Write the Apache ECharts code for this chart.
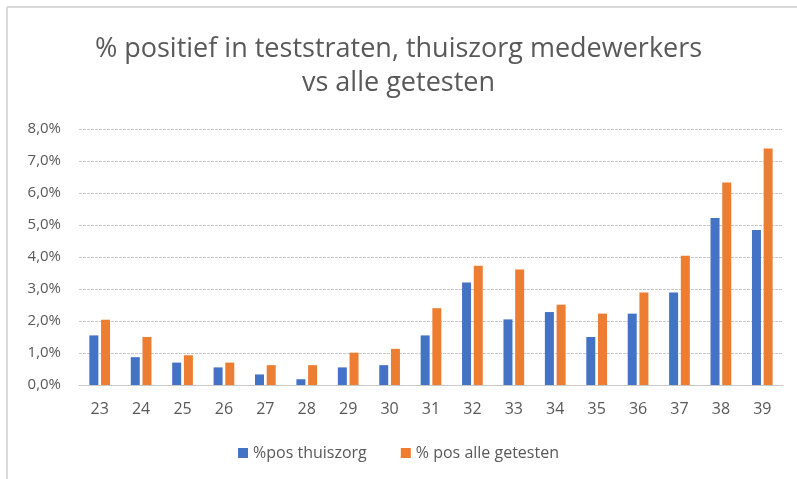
<!DOCTYPE html>
<html>
<head>
<meta charset="utf-8">
<title>% positief in teststraten</title>
<script src="https://cdn.jsdelivr.net/npm/echarts@6/dist/echarts.min.js"></script>
<style>
  html, body { margin: 0; padding: 0; background: #fff; }
  #chart { width: 797px; height: 479px; }
</style>
</head>
<body>
<div id="chart"></div>
<script>
// weeknummers
var weeks = ['23','24','25','26','27','28','29','30','31','32','33','34','35','36','37','38','39'];
// % pos thuiszorg
var thuiszorg = [1.55, 0.87, 0.70, 0.55, 0.33, 0.18, 0.55, 0.62, 1.55, 3.20, 2.05, 2.28, 1.50, 2.23, 2.89, 5.22, 4.84];
// % pos alle getesten
var alleGetesten = [2.04, 1.50, 0.93, 0.70, 0.62, 0.62, 1.01, 1.13, 2.40, 3.73, 3.61, 2.51, 2.23, 2.89, 4.04, 6.33, 7.39];
var seriesNames = ['%pos thuiszorg', '% pos alle getesten'];

var chart = echarts.init(document.getElementById('chart'));
var textColor = '#595959';

chart.setOption({
  animation: false,
  backgroundColor: '#fff',
  title: {
    text: '% positief in teststraten, thuiszorg medewerkers\nvs alle getesten',
    left: 'center',
    top: 27,
    textStyle: {
      fontFamily: 'Open Sans',
      fontWeight: 'normal',
      fontSize: 27,
      lineHeight: 34,
      color: textColor
    }
  },
  legend: {
    data: seriesNames,
    bottom: 13,
    left: 'center',
    itemWidth: 10,
    itemHeight: 10,
    itemGap: 34,
    icon: 'rect',
    textStyle: { fontFamily: 'Open Sans', fontSize: 16, color: textColor }
  },
  grid: { left: 79, right: 14, top: 129, bottom: 94, containLabel: false },
  xAxis: {
    type: 'category',
    data: weeks,
    axisLine: { lineStyle: { color: '#c8c8c8' } },
    axisTick: { show: false },
    axisLabel: { fontFamily: 'Open Sans', fontSize: 16, color: textColor, margin: 16 }
  },
  yAxis: {
    type: 'value',
    min: 0,
    max: 8,
    interval: 1,
    axisLine: { show: false },
    axisTick: { show: false },
    splitLine: { lineStyle: { color: '#c8c8c8', type: [3, 1] } },
    axisLabel: {
      fontFamily: 'Open Sans',
      fontSize: 15,
      color: textColor,
      margin: 18,
      formatter: function (v) { return v.toFixed(1).replace('.', ',') + '%'; }
    }
  },
  series: [
    {
      name: seriesNames[0],
      type: 'bar',
      data: thuiszorg,
      barWidth: 9,
      barGap: '30%',
      itemStyle: { color: '#4472c4' }
    },
    {
      name: seriesNames[1],
      type: 'bar',
      data: alleGetesten,
      barWidth: 9,
      itemStyle: { color: '#ed7d31' }
    }
  ],
  graphic: [
    { type: 'line', shape: { x1: 7, y1: 7, x2: 797, y2: 7 }, style: { stroke: '#d9d9d9', lineWidth: 2 } },
    { type: 'line', shape: { x1: 7, y1: 7, x2: 7, y2: 479 }, style: { stroke: '#d9d9d9', lineWidth: 2 } }
  ]
});
</script>
</body>
</html>
